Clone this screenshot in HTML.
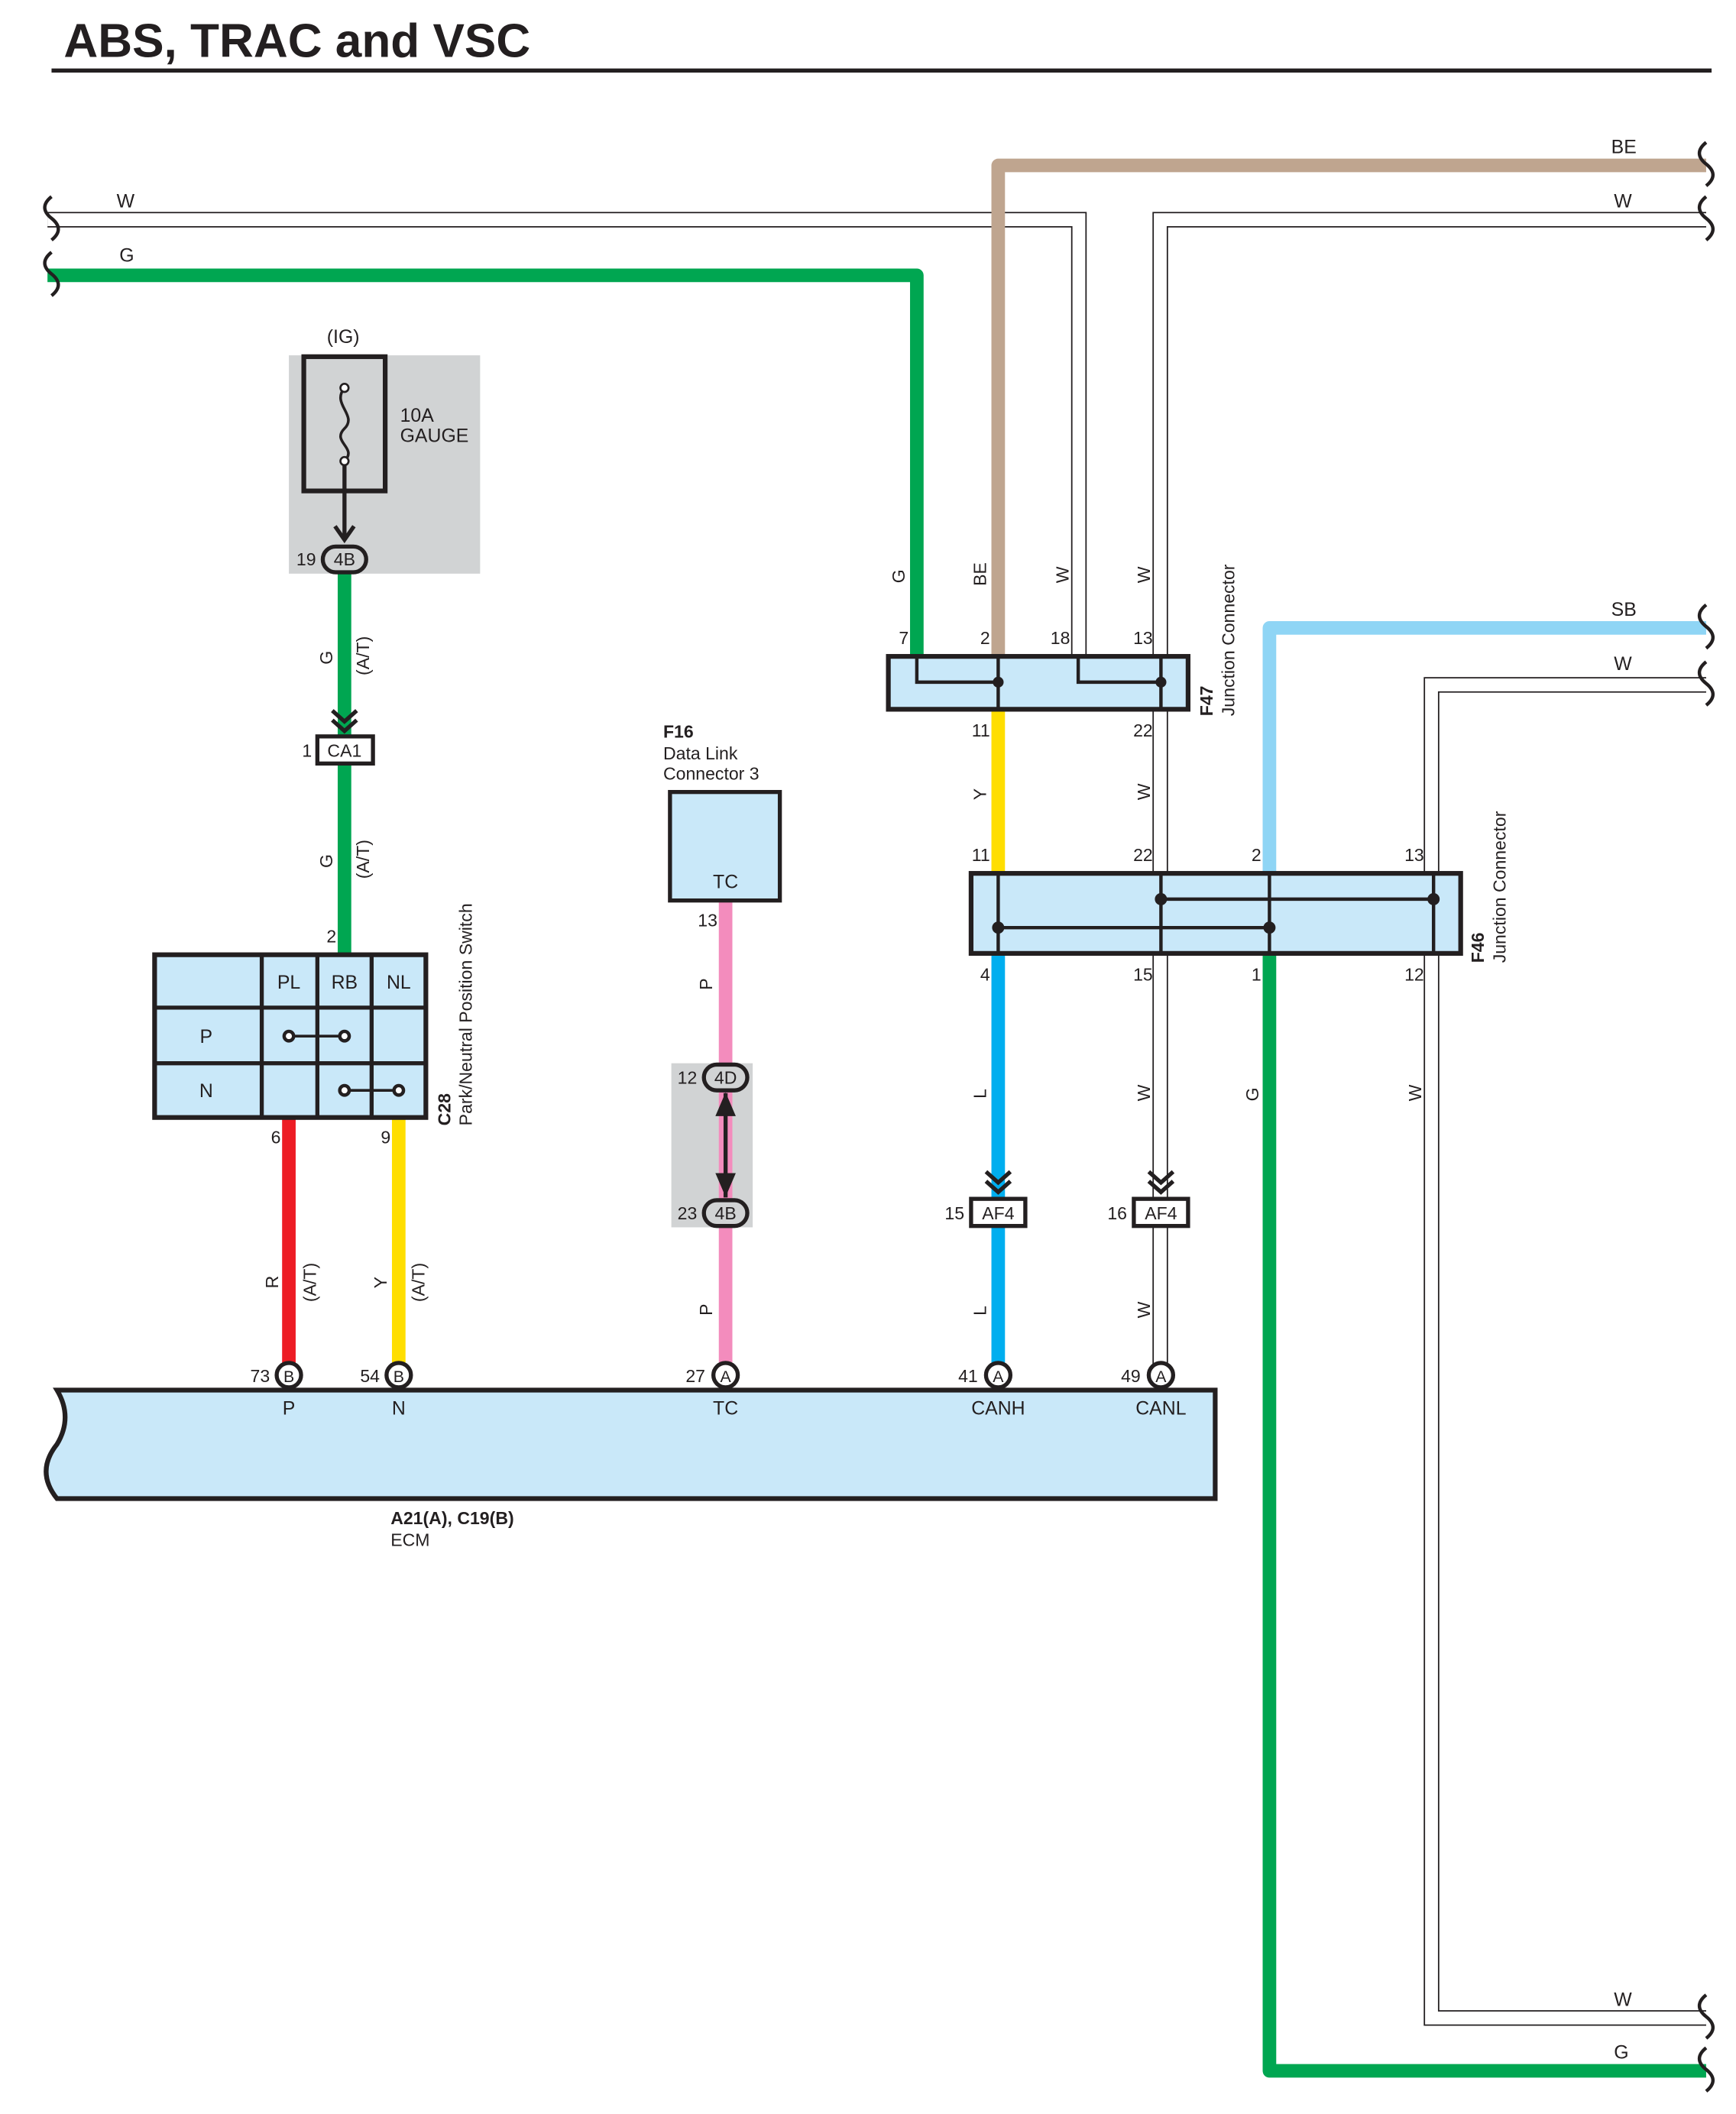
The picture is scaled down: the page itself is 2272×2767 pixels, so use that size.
<!DOCTYPE html>
<html><head><meta charset="utf-8"><style>
html,body{margin:0;padding:0;background:#fff}
svg{display:block}
text{font-family:"Liberation Sans",sans-serif;fill:#231f20}
</style></head><body>
<svg width="2272" height="2767" viewBox="0 0 1280 1558.8" preserveAspectRatio="none" xmlns="http://www.w3.org/2000/svg">
<defs>
<g id="chev"><path d="M-9,-10 L0,-2 L9,-10 M-9,-3 L0,5 L9,-3" fill="none" stroke="#231f20" stroke-width="3"/></g>
</defs>
<!-- title -->
<text x="47" y="42" font-size="35" font-weight="bold">ABS, TRAC and VSC</text>
<line x1="38" y1="52" x2="1262" y2="52" stroke="#231f20" stroke-width="3"/>

<!-- gray boxes -->
<rect x="213" y="262" width="141" height="161" fill="#d1d3d4"/>
<rect x="495" y="784" width="60" height="121" fill="#d1d3d4"/>

<!-- W wires (double line) -->
<g fill="none" stroke-linejoin="miter">
<path d="M35,162 H795.5 V483" stroke="#231f20" stroke-width="11.5"/>
<path d="M35,162 H795.5 V483" stroke="#fff" stroke-width="9.5"/>
<path d="M1258,162 H855.5 V1013" stroke="#231f20" stroke-width="11.5"/>
<path d="M1258,162 H855.5 V1013" stroke="#fff" stroke-width="9.5"/>
<path d="M1258,505 H1055.5 V1488 H1258" stroke="#231f20" stroke-width="11.5"/>
<path d="M1258,505 H1055.5 V1488 H1258" stroke="#fff" stroke-width="9.5"/>
</g>
<!-- colored wires -->
<g fill="none" stroke-width="10" stroke-linejoin="round">
<path d="M1258,122 H736 V483" stroke="#bfa58f"/>
<path d="M35,203 H676 V483" stroke="#00a651"/>
<path d="M1258,463 H936 V643" stroke="#8fd5f5"/>
<path d="M936,704 V1527 H1258" stroke="#00a651"/>
<path d="M254,420 V703" stroke="#00a651"/>
<path d="M213,825 V1013" stroke="#ed1c24"/>
<path d="M294,825 V1013" stroke="#ffde00"/>
<path d="M535,664 V1013" stroke="#f38cbd"/>
<path d="M736,523 V643" stroke="#ffde00"/>
<path d="M736,704 V1013" stroke="#00aeef"/>
</g>

<!-- break marks -->
<g fill="none" stroke="#231f20" stroke-width="2.5">
<path d="M38,145 q-10,8 0,16 q10,8 0,16"/>
<path d="M38,186 q-10,8 0,16 q10,8 0,16"/>
<path d="M1258,105 q-10,8 0,16 q10,8 0,16"/>
<path d="M1258,145 q-10,8 0,16 q10,8 0,16"/>
<path d="M1258,446 q-10,8 0,16 q10,8 0,16"/>
<path d="M1258,488 q-10,8 0,16 q10,8 0,16"/>
<path d="M1258,1471 q-10,8 0,16 q10,8 0,16"/>
<path d="M1258,1510 q-10,8 0,16 q10,8 0,16"/>
</g>
<!-- wire labels -->
<g font-size="14">
<text x="86" y="153">W</text><text x="88" y="193">G</text>
<text x="1188" y="113">BE</text><text x="1190" y="153">W</text>
<text x="1188" y="454">SB</text><text x="1190" y="494">W</text>
<text x="1190" y="1479">W</text><text x="1190" y="1518">G</text>
</g>

<!-- fuse -->
<text x="241" y="253" font-size="14">(IG)</text>
<rect x="224" y="263" width="60" height="99" fill="none" stroke="#231f20" stroke-width="3.5"/>
<path d="M254,286 c-10,12 10,20 0,30 c-10,10 10,14 0,24" fill="none" stroke="#231f20" stroke-width="2"/>
<circle cx="254" cy="286" r="3" fill="#fff" stroke="#231f20" stroke-width="1.5"/>
<circle cx="254" cy="340" r="3" fill="#fff" stroke="#231f20" stroke-width="1.5"/>
<line x1="254" y1="343" x2="254" y2="398" stroke="#231f20" stroke-width="3"/>
<path d="M247,388 L254,398 L261,388" fill="none" stroke="#231f20" stroke-width="3"/>
<text x="295" y="311" font-size="14">10A</text><text x="295" y="326" font-size="14">GAUGE</text>

<!-- oval connectors -->
<g stroke="#231f20" stroke-width="3" fill="#d1d3d4">
<rect x="238" y="403" width="32" height="19" rx="9.5"/>
<rect x="519" y="785" width="32" height="19" rx="9.5"/>
<rect x="519" y="885" width="32" height="19" rx="9.5"/>
</g>
<g font-size="13" text-anchor="middle">
<text x="254" y="417">4B</text><text x="535" y="799">4D</text><text x="535" y="899">4B</text>
</g>
<g font-size="13" text-anchor="end">
<text x="233" y="417">19</text><text x="514" y="799">12</text><text x="514" y="899">23</text>
</g>
<line x1="535" y1="806" x2="535" y2="883" stroke="#231f20" stroke-width="3"/>
<path d="M529,822 L535,808 L541,822 Z M529,866 L535,880 L541,866 Z" fill="#231f20" stroke="#231f20" stroke-width="2"/>

<!-- chevrons -->
<use href="#chev" x="254" y="534"/>
<use href="#chev" x="736" y="874"/>
<use href="#chev" x="856" y="874"/>

<!-- CA1 / AF4 boxes -->
<g fill="#fff" stroke="#231f20" stroke-width="3">
<rect x="234" y="543" width="41" height="20"/>
<rect x="716" y="884" width="40" height="20"/>
<rect x="836" y="884" width="40" height="20"/>
</g>
<g font-size="13" text-anchor="middle">
<text x="254" y="558">CA1</text><text x="736" y="899">AF4</text><text x="856" y="899">AF4</text>
</g>
<g font-size="13" text-anchor="end">
<text x="230" y="558">1</text><text x="711" y="899">15</text><text x="831" y="899">16</text>
</g>

<!-- rotated wire labels -->
<g font-size="13">
<text transform="translate(245,490) rotate(-90)">G</text>
<text transform="translate(272,498) rotate(-90)">(A/T)</text>
<text transform="translate(245,640) rotate(-90)">G</text>
<text transform="translate(272,648) rotate(-90)">(A/T)</text>
<text transform="translate(205,950) rotate(-90)">R</text>
<text transform="translate(233,960) rotate(-90)">(A/T)</text>
<text transform="translate(285,950) rotate(-90)">Y</text>
<text transform="translate(313,960) rotate(-90)">(A/T)</text>
<text transform="translate(525,730) rotate(-90)">P</text>
<text transform="translate(525,970) rotate(-90)">P</text>
<text transform="translate(667,430) rotate(-90)">G</text>
<text transform="translate(727,432) rotate(-90)">BE</text>
<text transform="translate(788,430) rotate(-90)">W</text>
<text transform="translate(848,430) rotate(-90)">W</text>
<text transform="translate(727,590) rotate(-90)">Y</text>
<text transform="translate(848,590) rotate(-90)">W</text>
<text transform="translate(727,810) rotate(-90)">L</text>
<text transform="translate(848,812) rotate(-90)">W</text>
<text transform="translate(928,812) rotate(-90)">G</text>
<text transform="translate(1048,812) rotate(-90)">W</text>
<text transform="translate(727,970) rotate(-90)">L</text>
<text transform="translate(848,972) rotate(-90)">W</text>
</g>

<!-- C28 switch -->
<rect x="114" y="704" width="200" height="120" fill="#c9e8f9" stroke="#231f20" stroke-width="3.5"/>
<g stroke="#231f20" stroke-width="3">
<line x1="193" y1="704" x2="193" y2="824"/><line x1="234" y1="704" x2="234" y2="824"/><line x1="274" y1="704" x2="274" y2="824"/>
<line x1="114" y1="743" x2="314" y2="743"/><line x1="114" y1="784" x2="314" y2="784"/>
<line x1="213" y1="764" x2="254" y2="764" stroke-width="2"/><line x1="254" y1="804" x2="294" y2="804" stroke-width="2"/>
</g>
<g fill="#fff" stroke="#231f20" stroke-width="2.5">
<circle cx="213" cy="764" r="3.5"/><circle cx="254" cy="764" r="3.5"/><circle cx="254" cy="804" r="3.5"/><circle cx="294" cy="804" r="3.5"/>
</g>
<g font-size="14" text-anchor="middle">
<text x="213" y="729">PL</text><text x="254" y="729">RB</text><text x="294" y="729">NL</text>
<text x="152" y="769">P</text><text x="152" y="809">N</text>
</g>
<g font-size="13" text-anchor="end"><text x="248" y="695">2</text><text x="207" y="843">6</text><text x="288" y="843">9</text></g>
<text transform="translate(332,830) rotate(-90)" font-size="13" font-weight="bold">C28</text>
<text transform="translate(348,830) rotate(-90)" font-size="13">Park/Neutral Position Switch</text>

<!-- F16 -->
<text x="489" y="544" font-size="13" font-weight="bold">F16</text>
<text x="489" y="560" font-size="13">Data Link</text>
<text x="489" y="575" font-size="13">Connector 3</text>
<rect x="494" y="584" width="81" height="80" fill="#c9e8f9" stroke="#231f20" stroke-width="3"/>
<text x="535" y="655" font-size="14" text-anchor="middle">TC</text>
<text x="529" y="683" font-size="13" text-anchor="end">13</text>

<!-- F47 -->
<rect x="655" y="484" width="221" height="39" fill="#c9e8f9" stroke="#231f20" stroke-width="3.5"/>
<g stroke="#231f20" stroke-width="2.5" fill="none">
<path d="M676,484 V503 H736"/><line x1="736" y1="484" x2="736" y2="523"/>
<path d="M795,484 V503 H856"/><line x1="856" y1="484" x2="856" y2="523"/>
</g>
<circle cx="736" cy="503" r="4" fill="#231f20"/><circle cx="856" cy="503" r="4" fill="#231f20"/>
<g font-size="13" text-anchor="end">
<text x="670" y="475">7</text><text x="730" y="475">2</text><text x="789" y="475">18</text><text x="850" y="475">13</text>
<text x="730" y="543">11</text><text x="850" y="543">22</text>
<text x="730" y="635">11</text><text x="850" y="635">22</text><text x="930" y="635">2</text><text x="1050" y="635">13</text>
<text x="730" y="723">4</text><text x="850" y="723">15</text><text x="930" y="723">1</text><text x="1050" y="723">12</text>
</g>
<text transform="translate(894,528) rotate(-90)" font-size="13" font-weight="bold">F47</text>
<text transform="translate(910,528) rotate(-90)" font-size="13">Junction Connector</text>

<!-- F46 -->
<rect x="716" y="644" width="361" height="59" fill="#c9e8f9" stroke="#231f20" stroke-width="3.5"/>
<g stroke="#231f20" stroke-width="2.5">
<line x1="736" y1="644" x2="736" y2="703"/><line x1="856" y1="644" x2="856" y2="703"/>
<line x1="936" y1="644" x2="936" y2="703"/><line x1="1057" y1="644" x2="1057" y2="703"/>
<line x1="856" y1="663" x2="1057" y2="663"/><line x1="736" y1="684" x2="936" y2="684"/>
</g>
<g fill="#231f20"><circle cx="856" cy="663" r="4.5"/><circle cx="1057" cy="663" r="4.5"/><circle cx="736" cy="684" r="4.5"/><circle cx="936" cy="684" r="4.5"/></g>
<text transform="translate(1094,710) rotate(-90)" font-size="13" font-weight="bold">F46</text>
<text transform="translate(1110,710) rotate(-90)" font-size="13">Junction Connector</text>

<!-- ECM -->
<path d="M42,1025 H896 V1105 H42 q-16,-20 0,-40 q12,-20 0,-40 Z" fill="#c9e8f9" stroke="#231f20" stroke-width="3.5"/>
<g fill="#fff" stroke="#231f20" stroke-width="3">
<circle cx="213" cy="1014" r="9"/><circle cx="294" cy="1014" r="9"/><circle cx="535" cy="1014" r="9"/>
<circle cx="736" cy="1014" r="9"/><circle cx="856" cy="1014" r="9"/>
</g>
<g font-size="12" text-anchor="middle">
<text x="213" y="1019">B</text><text x="294" y="1019">B</text><text x="535" y="1019">A</text><text x="736" y="1019">A</text><text x="856" y="1019">A</text>
</g>
<g font-size="13" text-anchor="end">
<text x="199" y="1019">73</text><text x="280" y="1019">54</text><text x="520" y="1019">27</text><text x="721" y="1019">41</text><text x="841" y="1019">49</text>
</g>
<g font-size="14" text-anchor="middle">
<text x="213" y="1043">P</text><text x="294" y="1043">N</text><text x="535" y="1043">TC</text><text x="736" y="1043">CANH</text><text x="856" y="1043">CANL</text>
</g>
<text x="288" y="1124" font-size="13" font-weight="bold">A21(A), C19(B)</text>
<text x="288" y="1140" font-size="13">ECM</text>
</svg>
</body></html>
